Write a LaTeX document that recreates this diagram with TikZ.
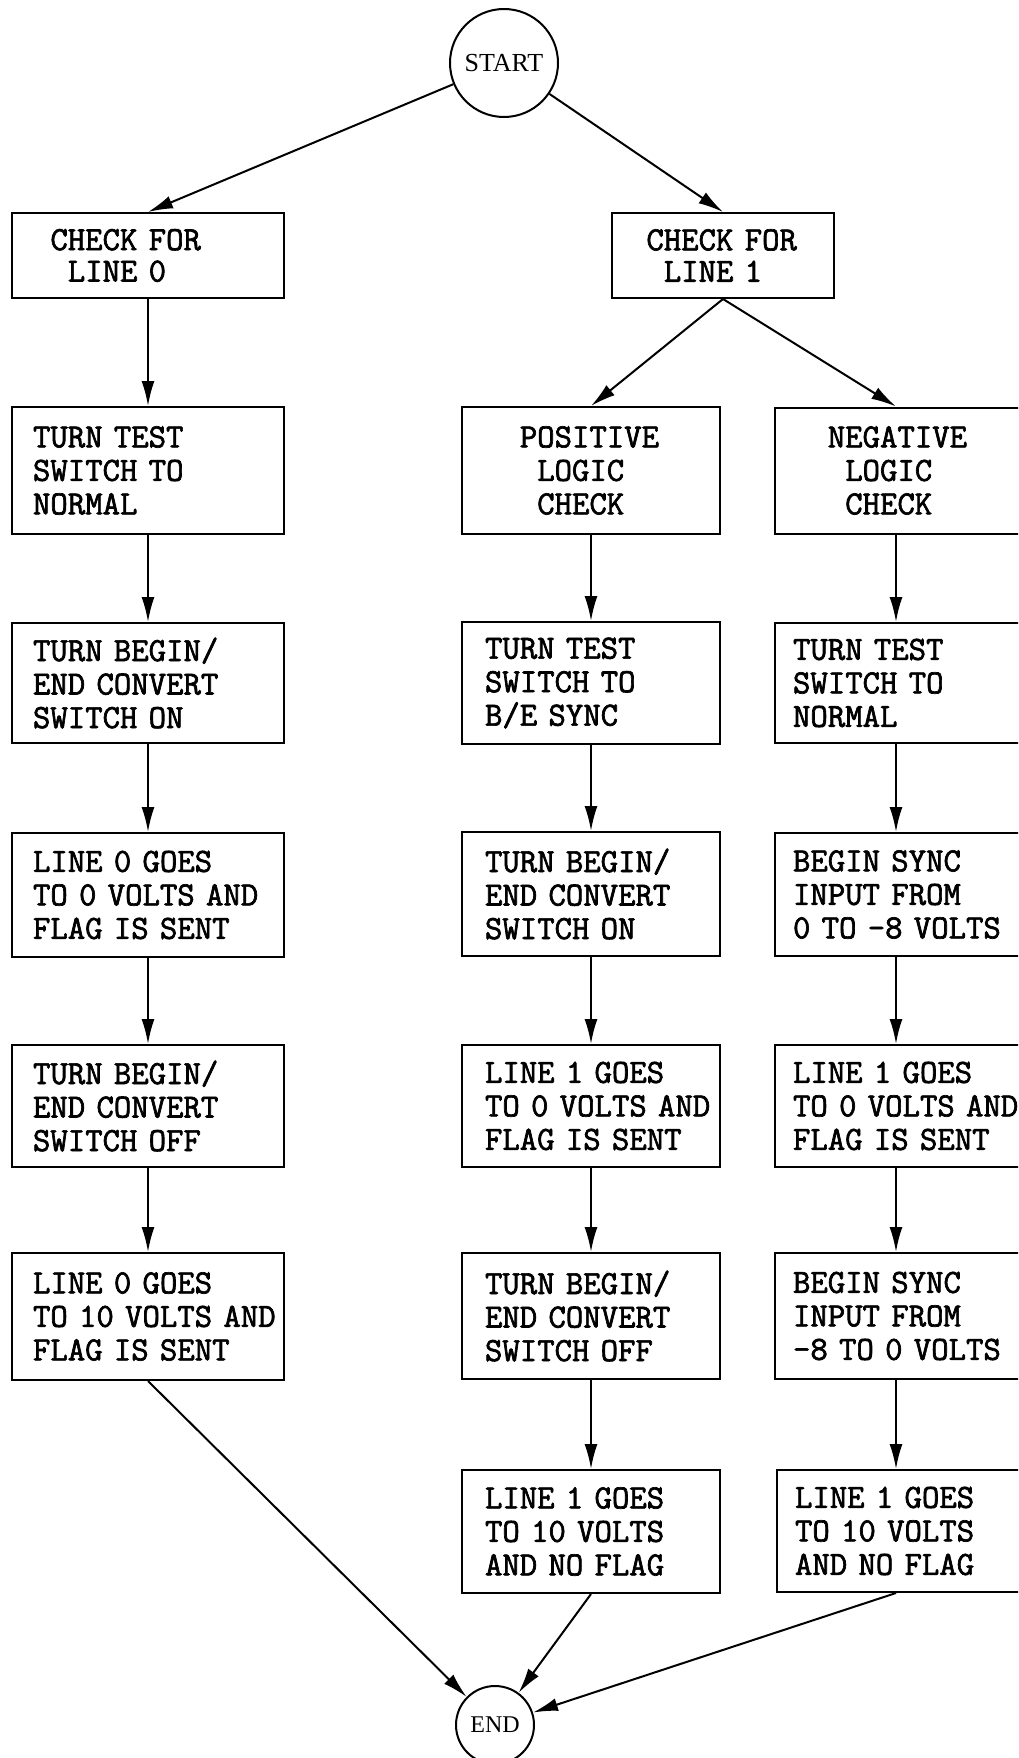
\documentclass[tikz,border=0pt]{standalone}
\usepackage{fontspec}
\newfontfamily\termfont{Liberation Serif}
\newfontfamily\boxfont{Latin Modern Mono}[FakeBold=2]
\usetikzlibrary{arrows.meta}
\begin{document}
\begin{tikzpicture}[x=1pt,y=-1pt,
  line width=2pt,
  box/.style={draw, align=left, inner ysep=0pt,
    font=\boxfont\fontsize{33.8}{33.5}\selectfont},
  boxtwo/.style={box, font=\boxfont\fontsize{33.8}{31.5}\selectfont},
  lcol/.style={box, minimum width=272pt, text width=230pt, inner xsep=21pt},
  mcol/.style={box, minimum width=258pt, text width=212pt, inner xsep=23pt},
  rcol/.style={box, anchor=west, minimum width=300pt, text width=264pt, inner xsep=18pt},
  term/.style={draw, circle, inner sep=0pt},
  arr/.style={-{Latex[length=25pt,width=13pt]}}
]
\useasboundingbox (0,0) rectangle (1018,1758);
\fill[white] (0,0) rectangle (1018,1758);
\clip (0,0) rectangle (1018,1758);
\coordinate (rc) at (896,0);

% terminals
\node[term, minimum size=108pt, font=\termfont\fontsize{26}{26}\selectfont] (start) at (504,63) {START};
\node[term, minimum size=78pt, font=\termfont\fontsize{24}{24}\selectfont] (end) at (495,1725) {END};

% check boxes
\node[boxtwo, minimum width=272pt, text width=230pt, inner xsep=21pt, minimum height=85pt] (c0) at (148,255.5)
  {\phantom{X}CHECK~FOR\\\phantom{XX}LINE~0};
\node[boxtwo, minimum width=222pt, text width=188pt, inner xsep=17pt, minimum height=85pt] (c1) at (723,255.5)
  {\phantom{X}CHECK~FOR\\\phantom{XX}LINE~1};

% left column
\node[lcol, minimum height=127pt] (L2) at (148,470.5) {TURN~TEST\\SWITCH~TO\\NORMAL};
\node[lcol, minimum height=120pt] (L3) at (148,683) {TURN~BEGIN/\\END~CONVERT\\SWITCH~ON};
\node[lcol, minimum height=124pt] (L4) at (148,895) {LINE~0~GOES\\TO~0~VOLTS~AND\\FLAG~IS~SENT};
\node[lcol, minimum height=122pt] (L5) at (148,1106) {TURN~BEGIN/\\END~CONVERT\\SWITCH~OFF};
\node[lcol, minimum height=127pt] (L6) at (148,1316.5) {LINE~0~GOES\\TO~10~VOLTS~AND\\FLAG~IS~SENT};

% middle column
\node[mcol, minimum height=127pt] (P2) at (591,470.5) {\phantom{XX}POSITIVE\\\phantom{XXX}LOGIC\\\phantom{XXX}CHECK};
\node[mcol, minimum height=122pt] (P3) at (591,683) {TURN~TEST\\SWITCH~TO\\B/E~SYNC};
\node[mcol, minimum height=124pt] (P4) at (591,894) {TURN~BEGIN/\\END~CONVERT\\SWITCH~ON};
\node[mcol, minimum height=122pt] (P5) at (591,1106) {LINE~1~GOES\\TO~0~VOLTS~AND\\FLAG~IS~SENT};
\node[mcol, minimum height=126pt] (P6) at (591,1316) {TURN~BEGIN/\\END~CONVERT\\SWITCH~OFF};
\node[mcol, minimum height=123pt] (P7) at (591,1531.5) {LINE~1~GOES\\TO~10~VOLTS\\AND~NO~FLAG};

% right column
\node[rcol, minimum height=126pt] (N2) at (774,470.5) {\phantom{XX}NEGATIVE\\\phantom{XXX}LOGIC\\\phantom{XXX}CHECK};
\node[rcol, minimum height=120pt] (N3) at (774,683) {TURN~TEST\\SWITCH~TO\\NORMAL};
\node[rcol, minimum height=123pt] (N4) at (774,894.5) {BEGIN~SYNC\\INPUT~FROM\\0~TO~-8~VOLTS};
\node[rcol, minimum height=122pt] (N5) at (774,1106) {LINE~1~GOES\\TO~0~VOLTS~AND\\FLAG~IS~SENT};
\node[rcol, minimum height=126pt] (N6) at (774,1316) {BEGIN~SYNC\\INPUT~FROM\\-8~TO~0~VOLTS};
\node[rcol, minimum height=122pt] (N7) at (776,1531) {LINE~1~GOES\\TO~10~VOLTS\\AND~NO~FLAG};

% connectors
\draw[arr] (start) -- (c0.north);
\draw[arr] (start) -- (c1.north);
\draw[arr] (c0.south) -- (L2.north);
\draw[arr] (c1.south) -- (P2.north);
\draw[arr] (c1.south) -- (N2.north -| rc);

\draw[arr] (L2.south) -- (L3.north);
\draw[arr] (L3.south) -- (L4.north);
\draw[arr] (L4.south) -- (L5.north);
\draw[arr] (L5.south) -- (L6.north);

\draw[arr] (P2.south) -- (P3.north);
\draw[arr] (P3.south) -- (P4.north);
\draw[arr] (P4.south) -- (P5.north);
\draw[arr] (P5.south) -- (P6.north);
\draw[arr] (P6.south) -- (P7.north);

\draw[arr] (N2.south -| rc) -- (N3.north -| rc);
\draw[arr] (N3.south -| rc) -- (N4.north -| rc);
\draw[arr] (N4.south -| rc) -- (N5.north -| rc);
\draw[arr] (N5.south -| rc) -- (N6.north -| rc);
\draw[arr] (N6.south -| rc) -- (N7.north -| rc);

\draw[arr] (L6.south) -- (end);
\draw[arr] (P7.south) -- (end);
\draw[arr] (N7.south -| rc) -- (end);
\end{tikzpicture}
\end{document}
